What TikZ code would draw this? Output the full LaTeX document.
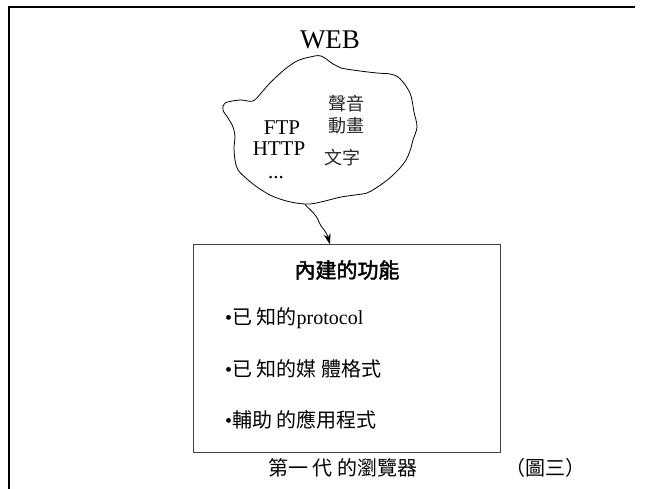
\documentclass[tikz,border=0pt]{standalone}
\usepackage{fontspec}
\setmainfont{Liberation Serif}
\newfontfamily\cjk{Noto Sans CJK TC}
\newfontfamily\cjkb[FakeBold=2]{Noto Sans CJK TC}
\usetikzlibrary{arrows.meta}
\tikzset{
  frameline/.style={line width=2pt},
  boxline/.style={draw=black!75, line width=1pt},
  cloudline/.style={draw, line width=0.8pt},
  lat/.style={inner sep=0pt, anchor=base, text depth=0pt, font=\fontsize{21}{21}\selectfont},
  cj/.style={inner sep=0pt, font=\fontsize{18}{18}\selectfont\cjk, text=black!85},
  item/.style={inner sep=0pt, anchor=west, font=\fontsize{20}{20}\selectfont},
}
\begin{document}
\begin{tikzpicture}[x=1pt,y=-1pt]
\useasboundingbox (0,0) rectangle (649,489);
% outer frame (top and left only)
\coordinate (fl) at (8.5,489);
\coordinate (ftl) at (8.5,7.5);
\coordinate (ftr) at (635,7.5);
\draw[frameline] (fl) -- (ftl) -- (ftr);
% WEB
\node[inner sep=0pt, font=\fontsize{27}{27}\selectfont] (web) at (330,40) {WEB};
% cloud
\draw[cloudline] plot[smooth cycle, tension=0.55] coordinates {
 (225,103) (240,100) (253,101) (262,92) (270,83) (284,70) (297,61) (310,57) (321,56)
 (333,64) (341,68) (360,71) (377,73) (390,74) (398,77) (406,86) (411,96) (414,112)
 (417,127) (413,140) (410,151) (406,160) (400,168) (392,176) (386,181) (376,188)
 (367,193) (355,195) (341,197) (325,201) (310,204) (296,203) (283,200) (270,195)
 (257,187) (247,179) (238,170) (235,160) (234,147) (235,137) (233,127) (228,118)
 (223,110)};
\coordinate (cb) at (305,204.5);
% cloud texts
\node[lat] (ftp) at (282,135) {FTP};
\node[lat] (http) at (279,156) {HTTP};
\node[lat, text height=3pt] (dots) at (276,179) {...};
\node[cj] (sy) at (346,104) {聲音};
\node[cj] (dh) at (346,126) {動畫};
\node[cj] (wz) at (342,158) {文字};
% box
\node[boxline, minimum width=307pt, minimum height=208pt, inner sep=0pt] (box) at (346.5,349) {};
% arrow
\draw[line width=0.8pt, -{Stealth[length=11pt,width=7pt]}] (cb) .. controls (312,212) and (316,214) .. (319,222)
  .. controls (321,228) and (326,230) .. (box.north -| 330,0);
% box texts
\node[inner sep=0pt, font=\fontsize{21}{21}\selectfont\cjkb] (title) at (347,270) {內建的功能};
\node[item] (i1) at (225,318) {•{\cjk 已 知的}protocol};
\node[item] (i2) at (225,369) {•{\cjk 已 知的媒 體格式}};
\node[item] (i3) at (225,420) {•{\cjk 輔助 的應用程式}};
% caption
\node[inner sep=0pt, font=\fontsize{20}{20}\selectfont\cjk] (cap) at (343,468) {第一 代 的瀏覽器};
\node[inner sep=0pt, font=\fontsize{20}{20}\selectfont\cjk] (fig) at (545,468) {（圖三）};
\end{tikzpicture}
\end{document}
